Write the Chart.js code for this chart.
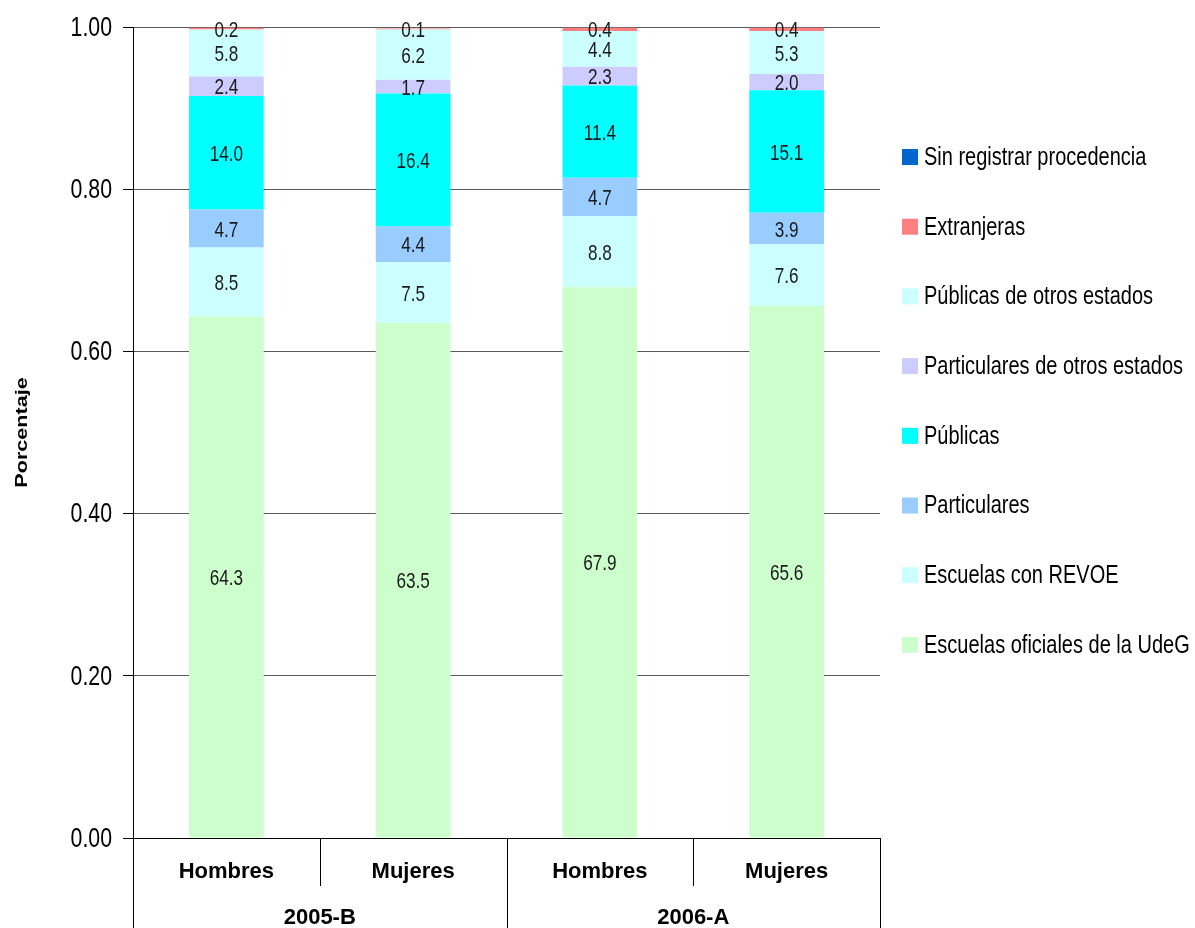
<!DOCTYPE html>
<html>
<head>
<meta charset="utf-8">
<script src="https://cdn.jsdelivr.net/npm/chart.js@4.4.1/dist/chart.umd.min.js"></script>
<style>
  html, body { margin: 0; padding: 0; background: #fff; }
  #wrap { width: 1195px; height: 928px; }
</style>
</head>
<body>
<div id="wrap"><canvas id="chart" width="1195" height="928"></canvas></div>
<script>
const periods = ['2005-B', '2006-A'];
const sexes = ['Hombres', 'Mujeres', 'Hombres', 'Mujeres'];

// percent of students by school of origin (bottom of the stack first)
const udeg = [64.3, 63.5, 67.9, 65.6];
const revoe = [8.5, 7.5, 8.8, 7.6];
const particulares = [4.7, 4.4, 4.7, 3.9];
const publicas = [14.0, 16.4, 11.4, 15.1];
const partOtros = [2.4, 1.7, 2.3, 2.0];
const pubOtros = [5.8, 6.2, 4.4, 5.3];
const extranjeras = [0.2, 0.1, 0.4, 0.4];
const sinRegistrar = [0, 0, 0, 0];

const yTicks = [0, 20, 40, 60, 80, 100];

const FONT = "'Liberation Sans', Arial, sans-serif";

const series = [
    { label: 'Escuelas oficiales de la UdeG', data: udeg, color: '#CCFFCC' },
    { label: 'Escuelas con REVOE', data: revoe, color: '#CCFFFF' },
    { label: 'Particulares', data: particulares, color: '#99CCFF' },
    { label: 'Públicas', data: publicas, color: '#00FFFF' },
    { label: 'Particulares de otros estados', data: partOtros, color: '#CCCCFF' },
    { label: 'Públicas de otros estados', data: pubOtros, color: '#CCFFFF' },
    { label: 'Extranjeras', data: extranjeras, color: '#FF8080' },
    { label: 'Sin registrar procedencia', data: sinRegistrar, color: '#0066CC' }
];

// the original uses a narrow face, so squeeze the text sideways
function narrow(ctx, text, x, y, size, align, sx) {
    ctx.save();
    ctx.font = size + 'px ' + FONT;
    ctx.textAlign = align;
    ctx.textBaseline = 'middle';
    ctx.translate(x, y);
    ctx.scale(sx, 1);
    ctx.fillText(text, 0, 0);
    ctx.restore();
}

const extras = {
    id: 'extras',
    afterDatasetsDraw(chart) {
        const ctx = chart.ctx;
        const area = chart.chartArea;
        const x = chart.scales.x;
        const y = chart.scales.y;

        // values inside segments
        ctx.fillStyle = '#1a1a1a';
        chart.data.datasets.forEach((ds, di) => {
            chart.getDatasetMeta(di).data.forEach((bar, i) => {
                const v = ds.data[i];
                if (!v) return;
                narrow(ctx, v.toFixed(1), bar.x, (bar.y + bar.base) / 2 + 2, 22, 'center', 0.78);
            });
        });

        // y tick labels
        ctx.fillStyle = '#000';
        yTicks.forEach(v => narrow(ctx, (v / 100).toFixed(2), 112, y.getPixelForValue(v) + 1, 28, 'right', 0.76));

        // multi level category axis
        const w = (area.right - area.left) / sexes.length;
        const bottom = chart.height;
        ctx.save();
        ctx.strokeStyle = '#000';
        ctx.lineWidth = 1;
        ctx.beginPath();
        ctx.moveTo(area.left, area.bottom + 0.5);
        ctx.lineTo(area.right, area.bottom + 0.5);
        for (let i = 0; i <= sexes.length; i++) {
            const px = Math.round(area.left + i * w) + 0.5;
            ctx.moveTo(px, area.bottom);
            ctx.lineTo(px, i % 2 === 0 ? bottom : area.bottom + 48);
        }
        ctx.stroke();
        ctx.fillStyle = '#000';
        ctx.textAlign = 'center';
        ctx.textBaseline = 'middle';
        ctx.font = 'bold 22px ' + FONT;
        sexes.forEach((s, i) => ctx.fillText(s, x.getPixelForValue(i), area.bottom + 34));
        periods.forEach((p, i) => ctx.fillText(p, area.left + (2 * i + 1) * w, area.bottom + 80));
        ctx.restore();

        // y axis title
        ctx.save();
        ctx.font = 'bold 16px ' + FONT;
        ctx.fillStyle = '#000';
        ctx.textAlign = 'center';
        ctx.textBaseline = 'middle';
        ctx.translate(23, (area.top + area.bottom) / 2);
        ctx.rotate(-Math.PI / 2);
        ctx.scale(1.35, 1);
        ctx.fillText('Porcentaje', 0, 0);
        ctx.restore();

        // legend, top of stack first
        const items = chart.data.datasets.slice().reverse();
        items.forEach((ds, i) => {
            const cy = 157 + i * 69.7;
            ctx.fillStyle = ds.backgroundColor;
            ctx.fillRect(902, cy - 8, 16, 16);
            ctx.fillStyle = '#000';
            narrow(ctx, ds.label, 924, cy + 1, 25, 'left', 0.8);
        });
    }
};

new Chart(document.getElementById('chart'), {
    type: 'bar',
    data: {
        labels: sexes,
        datasets: series.map(s => ({
            label: s.label,
            data: s.data,
            backgroundColor: s.color,
            borderWidth: 0,
            categoryPercentage: 0.4,
            barPercentage: 1
        }))
    },
    options: {
        responsive: false,
        animation: false,
        layout: { padding: { top: 27, right: 315, left: 0, bottom: 0 } },
        plugins: { legend: { display: false }, tooltip: { enabled: false } },
        scales: {
            x: {
                stacked: true,
                grid: { display: false },
                border: { display: false },
                ticks: { display: false },
                afterFit: (s) => { s.height = 90; }
            },
            y: {
                stacked: true,
                min: 0,
                max: 100,
                afterFit: (s) => { s.width = 133; },
                afterBuildTicks: (s) => { s.ticks = yTicks.map(v => ({ value: v })); },
                ticks: { display: false },
                grid: { color: '#5a5a5a', tickLength: 10, tickColor: '#000' },
                border: { color: '#000' }
            }
        }
    },
    plugins: [extras]
});
</script>
</body>
</html>
